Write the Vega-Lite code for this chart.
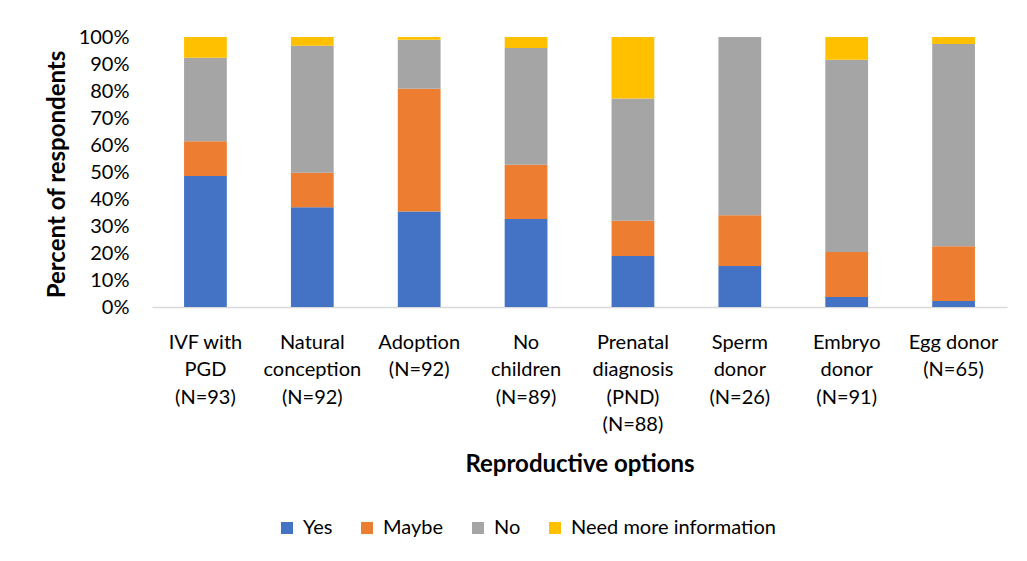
{
  "$schema": "https://vega.github.io/schema/vega-lite/v6.json",
  "autosize": "none",
  "width": 855,
  "height": 270,
  "padding": {"left": 152, "top": 37, "right": 20, "bottom": 254},
  "background": "white",
  "config": {
    "font": "Lato",
    "view": {"stroke": null},
    "axis": {"labelFont": "Lato", "titleFont": "Lato", "labelColor": "#000000", "titleColor": "#000000"}
  },
  "data": {
    "values": [
      {"option": "IVF with|PGD|(N=93)", "response": "Yes", "rank": 1, "pct": 48.5},
      {"option": "IVF with|PGD|(N=93)", "response": "Maybe", "rank": 2, "pct": 12.9},
      {"option": "IVF with|PGD|(N=93)", "response": "No", "rank": 3, "pct": 30.9},
      {"option": "IVF with|PGD|(N=93)", "response": "Need more information", "rank": 4, "pct": 7.7},
      {"option": "Natural|conception|(N=92)", "response": "Yes", "rank": 1, "pct": 36.9},
      {"option": "Natural|conception|(N=92)", "response": "Maybe", "rank": 2, "pct": 12.8},
      {"option": "Natural|conception|(N=92)", "response": "No", "rank": 3, "pct": 47.1},
      {"option": "Natural|conception|(N=92)", "response": "Need more information", "rank": 4, "pct": 3.2},
      {"option": "Adoption|(N=92)", "response": "Yes", "rank": 1, "pct": 35.4},
      {"option": "Adoption|(N=92)", "response": "Maybe", "rank": 2, "pct": 45.4},
      {"option": "Adoption|(N=92)", "response": "No", "rank": 3, "pct": 18.2},
      {"option": "Adoption|(N=92)", "response": "Need more information", "rank": 4, "pct": 1.0},
      {"option": "No|children|(N=89)", "response": "Yes", "rank": 1, "pct": 32.6},
      {"option": "No|children|(N=89)", "response": "Maybe", "rank": 2, "pct": 20.1},
      {"option": "No|children|(N=89)", "response": "No", "rank": 3, "pct": 43.2},
      {"option": "No|children|(N=89)", "response": "Need more information", "rank": 4, "pct": 4.1},
      {"option": "Prenatal|diagnosis|(PND)|(N=88)", "response": "Yes", "rank": 1, "pct": 18.9},
      {"option": "Prenatal|diagnosis|(PND)|(N=88)", "response": "Maybe", "rank": 2, "pct": 13.0},
      {"option": "Prenatal|diagnosis|(PND)|(N=88)", "response": "No", "rank": 3, "pct": 45.3},
      {"option": "Prenatal|diagnosis|(PND)|(N=88)", "response": "Need more information", "rank": 4, "pct": 22.8},
      {"option": "Sperm|donor|(N=26)", "response": "Yes", "rank": 1, "pct": 15.2},
      {"option": "Sperm|donor|(N=26)", "response": "Maybe", "rank": 2, "pct": 18.8},
      {"option": "Sperm|donor|(N=26)", "response": "No", "rank": 3, "pct": 66.0},
      {"option": "Sperm|donor|(N=26)", "response": "Need more information", "rank": 4, "pct": 0.0},
      {"option": "Embryo|donor|(N=91)", "response": "Yes", "rank": 1, "pct": 3.7},
      {"option": "Embryo|donor|(N=91)", "response": "Maybe", "rank": 2, "pct": 16.7},
      {"option": "Embryo|donor|(N=91)", "response": "No", "rank": 3, "pct": 71.2},
      {"option": "Embryo|donor|(N=91)", "response": "Need more information", "rank": 4, "pct": 8.4},
      {"option": "Egg donor|(N=65)", "response": "Yes", "rank": 1, "pct": 2.2},
      {"option": "Egg donor|(N=65)", "response": "Maybe", "rank": 2, "pct": 20.3},
      {"option": "Egg donor|(N=65)", "response": "No", "rank": 3, "pct": 74.9},
      {"option": "Egg donor|(N=65)", "response": "Need more information", "rank": 4, "pct": 2.6}
    ]
  },
  "mark": {"type": "bar"},
  "encoding": {
    "x": {
      "field": "option",
      "type": "nominal",
      "sort": null,
      "scale": {"paddingInner": 0.6, "paddingOuter": 0.3},
      "axis": {
        "title": "Reproductive options",
        "titleFontSize": 24,
        "titleFontWeight": "bold",
        "titleBaseline": "alphabetic",
        "titleY": 164,
        "labelExpr": "split(datum.label, '|')",
        "labelAngle": 0,
        "labelFontSize": 20,
        "labelLineHeight": 27.5,
        "labelBaseline": "top",
        "labelPadding": 25,
        "labelLimit": 200,
        "ticks": false,
        "domainColor": "#d9d9d9",
        "domainWidth": 1.5
      }
    },
    "y": {
      "field": "pct",
      "type": "quantitative",
      "stack": "zero",
      "scale": {"domain": [0, 100], "nice": false},
      "axis": {
        "title": "Percent of respondents",
        "titleFontSize": 24,
        "titleFontWeight": "bold",
        "titleX": -95,
        "titleY": 137,
        "titleBaseline": "middle",
        "titleAngle": -90,
        "titleAlign": "center",
        "values": [0, 10, 20, 30, 40, 50, 60, 70, 80, 90, 100],
        "labelExpr": "datum.value + '%'",
        "labelFontSize": 20,
        "labelPadding": 23,
        "ticks": false,
        "domain": false,
        "grid": false
      }
    },
    "order": {"field": "rank", "type": "quantitative", "sort": "ascending"},
    "color": {
      "field": "response",
      "type": "nominal",
      "sort": ["Yes", "Maybe", "No", "Need more information"],
      "scale": {
        "domain": ["Yes", "Maybe", "No", "Need more information"],
        "range": ["#4472C4", "#ED7D31", "#A5A5A5", "#FFC000"]
      },
      "legend": {
        "title": null,
        "orient": "none",
        "direction": "horizontal",
        "legendX": 125,
        "legendY": 481,
        "symbolType": "square",
        "symbolSize": 144,
        "symbolStrokeWidth": 0,
        "labelFontSize": 20,
        "labelColor": "#000000",
        "labelOffset": 6,
        "columnPadding": 24,
        "labelLimit": 400,
        "padding": 0
      }
    }
  }
}
